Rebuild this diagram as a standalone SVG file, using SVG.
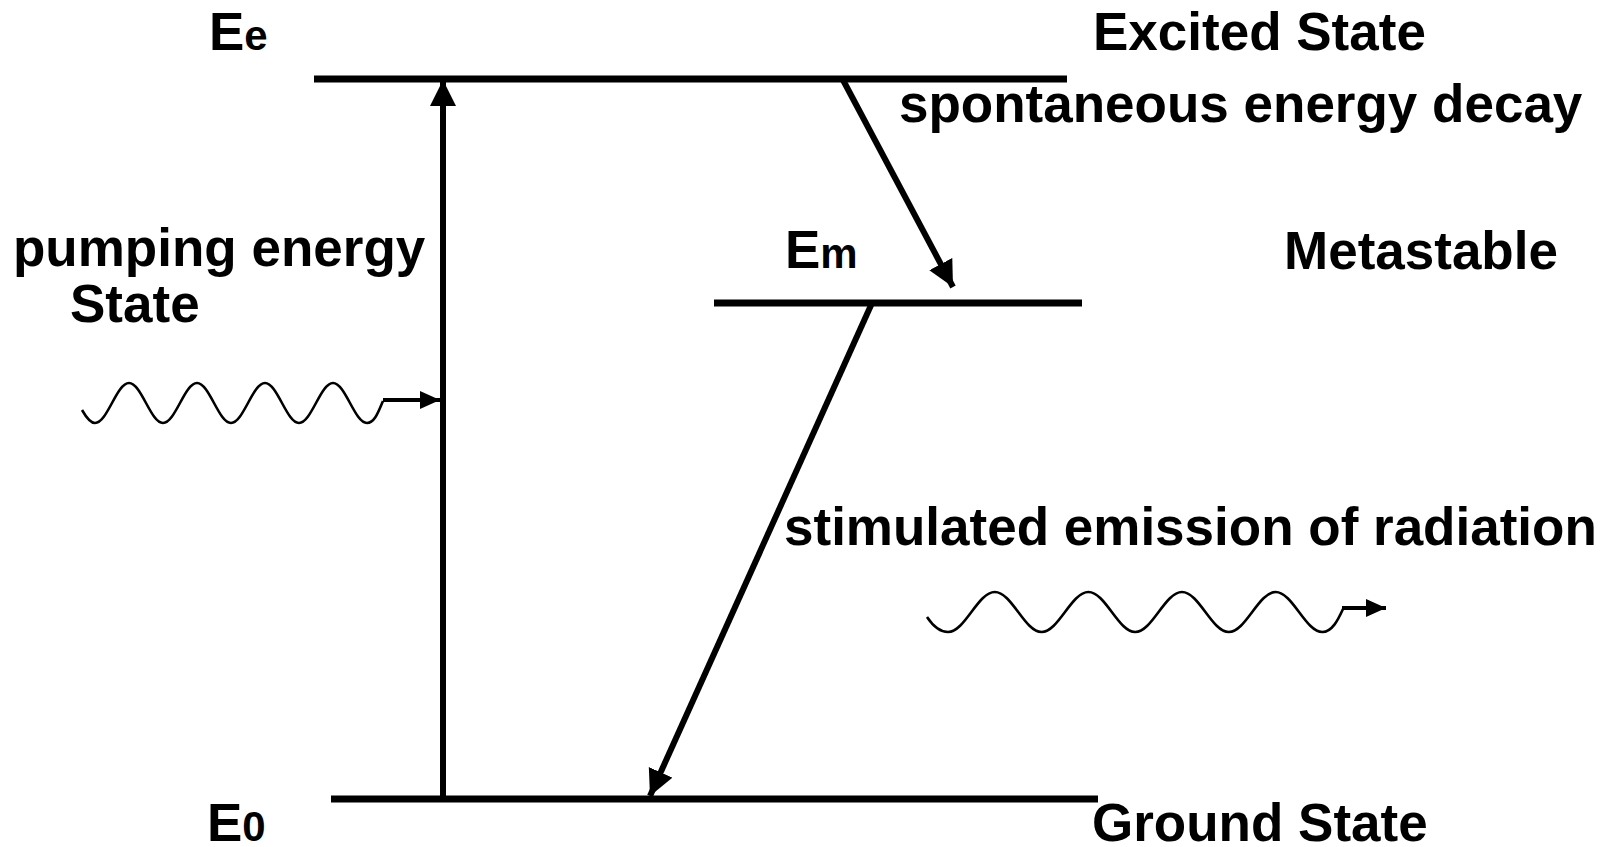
<svg xmlns="http://www.w3.org/2000/svg" width="1613" height="847" viewBox="0 0 1613 847">
<style>
text{font-family:"Liberation Sans",Arial,sans-serif;font-weight:bold;fill:#000}
.lbl{font-size:53px}
.sub{font-size:42px}
.lvl{stroke:#000;stroke-width:7;fill:none}
.arr{stroke:#000;stroke-width:6;fill:none}
.wave{stroke:#000;stroke-width:2.6;fill:none}
.wtail{stroke:#000;stroke-width:4;fill:none}
</style>
<defs>
<marker id="ah" markerUnits="userSpaceOnUse" markerWidth="32" markerHeight="32" refX="26" refY="13" orient="auto" viewBox="0 0 32 32">
<path d="M0,0 L26,13 L0,26 Z" fill="#000"/>
</marker>
<marker id="ahs" markerUnits="userSpaceOnUse" markerWidth="24" markerHeight="24" refX="20" refY="9" orient="auto" viewBox="0 0 24 24">
<path d="M0,0 L20,9 L0,18 Z" fill="#000"/>
</marker>
</defs>
<rect width="1613" height="847" fill="#fff"/>
<g id="level-excited">
<line class="lvl" x1="314" y1="79" x2="1067" y2="79"/>
<text class="lbl" x="209" y="50">E<tspan class="sub">e</tspan></text>
<text class="lbl" x="1093" y="50">Excited State</text>
</g>
<g id="level-metastable">
<line class="lvl" x1="714" y1="303" x2="1082" y2="303"/>
<text class="lbl" x="785" y="268">E<tspan class="sub">m</tspan></text>
<text class="lbl" x="1284" y="269">Metastable</text>
</g>
<g id="level-ground">
<line class="lvl" x1="331" y1="799" x2="1098" y2="799"/>
<text class="lbl" x="207" y="841">E<tspan class="sub">0</tspan></text>
<text class="lbl" x="1092" y="841">Ground State</text>
</g>
<g id="label-pumping">
<text class="lbl" x="13" y="266">pumping energy</text>
<text class="lbl" x="70" y="322">State</text>
</g>
<g id="label-spontaneous">
<text class="lbl" x="899" y="122">spontaneous energy decay</text>
</g>
<g id="label-stimulated">
<text class="lbl" x="784" y="545">stimulated emission of radiation</text>
</g>
<g id="photon-in">
<path class="wave" d="M82,410 C86,417 90,423 95,423 C107.4,423 116.6,383 129,383 S150.6,423 163,423 S184.6,383 197,383 S218.6,423 231,423 S252.6,383 265,383 S286.6,423 299,423 S320.6,383 333,383 S354.6,423 367,423 C375,423 379,410 383,401"/>
<line class="wtail" x1="383" y1="400" x2="440" y2="400" marker-end="url(#ahs)"/>
</g>
<g id="photon-out">
<path class="wave" d="M927,617 C933,626 940,632 948,632 C965,632 977.8,592 994.8,592 S1024.6,632 1041.6,632 S1071.4,592 1088.4,592 S1118.2,632 1135.2,632 S1165,592 1182,592 S1211.8,632 1228.8,632 S1258.6,592 1275.6,592 S1305.4,632 1322.4,632 C1332,632 1338,620 1343,609"/>
<line class="wtail" x1="1342" y1="608" x2="1386" y2="608" marker-end="url(#ahs)"/>
</g>
<g id="connectors">
<line class="arr" x1="443" y1="799" x2="443" y2="80" marker-end="url(#ah)"/>
<line class="arr" x1="843" y1="80" x2="953" y2="287" marker-end="url(#ah)"/>
<line class="arr" x1="872" y1="303" x2="650" y2="796" marker-end="url(#ah)"/>
</g>
</svg>
